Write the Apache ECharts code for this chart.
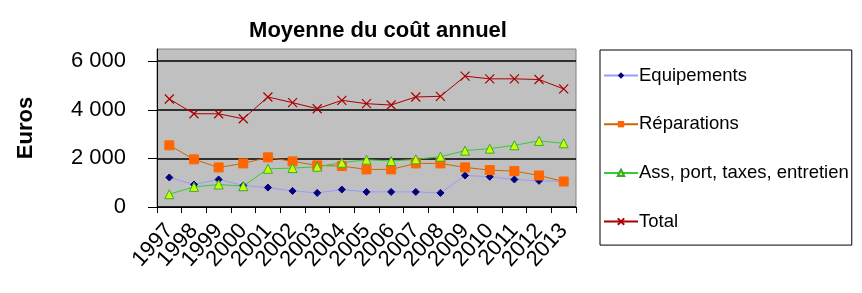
<!DOCTYPE html>
<html><head><meta charset="utf-8">
<script src="https://cdn.jsdelivr.net/npm/echarts@6/dist/echarts.min.js"></script>
<style>html,body{margin:0;padding:0;background:#fff}#c{width:862px;height:293px}</style>
</head><body><div id="c"></div>
<script>
const years = ['1997','1998','1999','2000','2001','2002','2003','2004','2005','2006','2007','2008','2009','2010','2011','2012','2013'];
const equipements = [1214, 925, 1132, 883, 800, 662, 580, 718, 621, 621, 621, 580, 1297, 1242, 1132, 1076, 1060];
const reparations = [2539, 1960, 1628, 1794, 2042, 1877, 1711, 1684, 1546, 1546, 1794, 1794, 1628, 1518, 1477, 1297, 1049];
const assurances = [524, 828, 925, 856, 1573, 1601, 1656, 1822, 1946, 1891, 1960, 2070, 2318, 2401, 2539, 2719, 2622];
const total = [4444, 3836, 3836, 3629, 4526, 4292, 4043, 4388, 4250, 4195, 4526, 4554, 5382, 5272, 5272, 5244, 4858];
const yTicks = [0, 2000, 4000, 6000];

const chart = echarts.init(document.getElementById('c'), null, {renderer: 'canvas'});
const font = 'Liberation Sans, Arial, sans-serif';
chart.setOption({
  animation: false,
  textStyle: {fontFamily: font},
  title: {
    text: 'Moyenne du coût annuel',
    left: 373, top: 15, textAlign: 'center',
    textStyle: {fontSize: 22, fontWeight: 'bold', color: '#000', fontFamily: font}
  },
  grid: {
    left: 157, right: 286, top: 49, bottom: 86,
    show: true, backgroundColor: '#c0c0c0', borderColor: '#808080', borderWidth: 1
  },
  legend: {
    orient: 'vertical', left: 600, top: 50,
    padding: [16, 3, 14, 3], itemGap: 29.7,
    itemWidth: 34, itemHeight: 8,
    borderColor: '#000', borderWidth: 1,
    textStyle: {fontSize: 18.5, color: '#000', fontFamily: font, padding: [0, 0, 0, -4]},
    data: ['Equipements', 'Réparations', 'Ass, port, taxes, entretien', 'Total']
  },
  xAxis: {
    type: 'category', data: years, boundaryGap: true,
    axisLine: {lineStyle: {color: '#000', width: 1}},
    axisTick: {show: true, alignWithLabel: false, length: 6, lineStyle: {color: '#000'}},
    axisLabel: {rotate: 48, interval: 0, fontSize: 22, color: '#000', margin: 20, fontFamily: font}
  },
  yAxis: {
    type: 'value', min: 0, max: 6500, interval: 2000,
    name: 'Euros', nameLocation: 'middle', nameGap: 120, nameRotate: 90,
    nameTextStyle: {fontSize: 22, fontWeight: 'bold', color: '#000', fontFamily: font},
    axisLine: {show: true, lineStyle: {color: '#000', width: 1}},
    axisTick: {show: true, length: 9, lineStyle: {color: '#000'}},
    axisLabel: {
      fontSize: 22, color: '#000', margin: 31, fontFamily: font, showMaxLabel: false,
      formatter: v => yTicks.includes(v) ? String(v).replace(/\B(?=(\d{3})+(?!\d))/g, ' ') : ''
    },
    splitLine: {show: true, showMaxLine: false, lineStyle: {color: '#000', width: 1.5}}
  },
  series: [
    {name: 'Equipements', type: 'line', data: equipements,
      symbol: 'diamond', symbolSize: 7,
      lineStyle: {color: '#9999ff', width: 1},
      itemStyle: {color: '#000080', borderColor: '#000080'}},
    {name: 'Réparations', type: 'line', data: reparations,
      symbol: 'rect', symbolSize: 9,
      lineStyle: {color: '#cc6600', width: 1},
      itemStyle: {color: '#ff6600', borderColor: '#ff6600'}},
    {name: 'Ass, port, taxes, entretien', type: 'line', data: assurances,
      symbol: 'triangle', symbolSize: 9,
      lineStyle: {color: '#33cc33', width: 1},
      itemStyle: {color: '#ccff00', borderColor: '#33aa33', borderWidth: 1}},
    {name: 'Total', type: 'line', data: total,
      symbol: 'path://M0,0L10,10M10,0L0,10', symbolSize: 9,
      lineStyle: {color: '#aa0000', width: 1},
      itemStyle: {color: 'none', borderColor: '#aa0000', borderWidth: 1.2}}
  ]
});
</script></body></html>
